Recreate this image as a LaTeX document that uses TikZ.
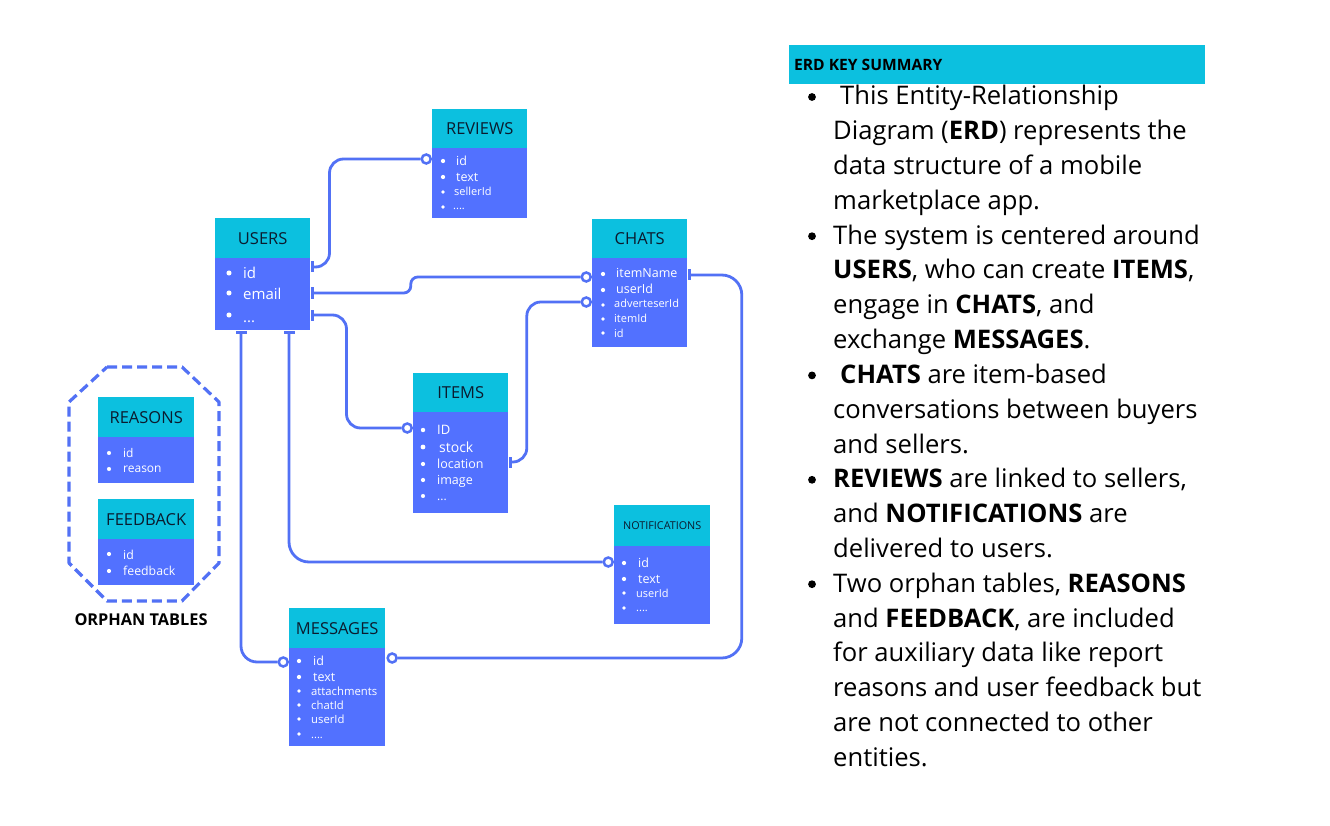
\documentclass[tikz,border=0pt]{standalone}
\usepackage{fontspec}
\setmainfont{Open Sans}
\usetikzlibrary{calc}
\definecolor{hdr}{HTML}{0CC0DF}
\definecolor{bdy}{HTML}{5271FF}
\definecolor{lnk}{HTML}{5271F5}
\definecolor{ink}{HTML}{0B1B2E}
\newcommand\fs[1]{\fontsize{#1}{#1}\selectfont}
% field row: name, bullet x, text x, baseline y, size, bullet y, text
\newcommand\frow[7]{\fill[white] (#2,#6) circle ({0.17*#5});
  \node[fld, font=\fs{#5}] (#1) at (#3,#4) {#7};}
\newcommand\kline[3]{\node[kl] at (#1,{105+34.8*#2}) {#3};}
\newcommand\kdot[1]{\fill[black] (812,{97+34.8*#1}) circle (3.9);}
\tikzset{
  hd/.style={rectangle, fill=hdr, anchor=north west, inner sep=0, text=ink},
  bd/.style={rectangle, fill=bdy, anchor=north west, inner sep=0},
  fld/.style={anchor=base west, inner sep=0, text=white},
  conn/.style={draw=lnk, line width=2.8pt, rounded corners=14pt},
  ocirc/.style={circle, draw=lnk, fill=white, line width=2.5pt, minimum size=9pt, inner sep=0},
  vbar/.style={rectangle, fill=lnk, minimum width=3pt, minimum height=11pt, inner sep=0},
  hbar/.style={rectangle, fill=lnk, minimum width=11pt, minimum height=3pt, inner sep=0},
  kl/.style={anchor=base west, inner sep=0, font=\fs{25.6}, text=black},
}
\begin{document}
\begin{tikzpicture}[x=1pt,y=-1pt]
\useasboundingbox[fill=white] (0,0) rectangle (1330,826);

% ---------- tables ----------
\node[hd, minimum width=95, minimum height=40, font=\fs{16.5}] (usersH) at (215,218) {USERS};
\node[bd, minimum width=95, minimum height=72] (usersB) at (215,258) {};
\node[hd, minimum width=95, minimum height=39, font=\fs{16.5}] (reviewsH) at (432,109) {REVIEWS};
\node[bd, minimum width=95, minimum height=70] (reviewsB) at (432,148) {};
\node[hd, minimum width=95, minimum height=39, font=\fs{16.5}] (chatsH) at (592,219) {CHATS};
\node[bd, minimum width=95, minimum height=89] (chatsB) at (592,258) {};
\node[hd, minimum width=95, minimum height=39, font=\fs{16.5}] (itemsH) at (413,373) {ITEMS};
\node[bd, minimum width=95, minimum height=101] (itemsB) at (413,412) {};
\node[hd, minimum width=96, minimum height=41, font=\fs{10.8}] (notifH) at (614,505) {NOTIFICATIONS};
\node[bd, minimum width=96, minimum height=78] (notifB) at (614,546) {};
\node[hd, minimum width=96, minimum height=40, font=\fs{16.5}] (msgH) at (289,608) {MESSAGES};
\node[bd, minimum width=96, minimum height=98] (msgB) at (289,648) {};
\node[hd, minimum width=96, minimum height=40, font=\fs{16.5}] (reasonsH) at (98,397) {REASONS};
\node[bd, minimum width=96, minimum height=46] (reasonsB) at (98,437) {};
\node[hd, minimum width=96, minimum height=40, font=\fs{16.5}] (feedbackH) at (98,499) {FEEDBACK};
\node[bd, minimum width=96, minimum height=46] (feedbackB) at (98,539) {};

% ---------- fields ----------
\frow{u1}{229}{243}{279}{15}{273}{id}
\frow{u2}{229}{243}{299}{15}{293}{email}
\frow{u3}{229}{243}{322}{15}{315}{...}

\frow{r1}{443}{456}{166}{12.5}{161}{id}
\frow{r2}{443}{456}{182}{12.5}{177}{text}
\frow{r3}{443}{454}{196}{11}{192}{sellerId}
\frow{r4}{443}{453}{210}{11}{207}{....}

\frow{c1}{603}{616}{278}{12.5}{274}{itemName}
\frow{c2}{603}{616}{294}{12.5}{290}{userId}
\frow{c3}{603}{614}{308}{11}{305}{adverteserId}
\frow{c4}{603}{614}{322}{11}{319}{itemId}
\frow{c5}{603}{614}{337}{11}{333}{id}

\frow{i1}{423}{437}{434}{13}{430}{ID}
\frow{i2}{423}{439}{452}{14}{447}{stock}
\frow{i3}{423}{437}{468}{12.5}{464}{location}
\frow{i4}{423}{437}{484}{12.5}{480}{image}
\frow{i5}{423}{437}{500}{12}{496}{...}

\frow{n1}{624}{638}{567}{12.5}{563}{id}
\frow{n2}{624}{638}{583}{12.5}{579}{text}
\frow{n3}{624}{636}{597}{11}{593}{userId}
\frow{n4}{624}{636}{611}{11}{608}{....}

\frow{m1}{299}{313}{665}{12.5}{661}{id}
\frow{m2}{299}{313}{681}{12.5}{677}{text}
\frow{m3}{299}{311}{695}{11.3}{691}{attachments}
\frow{m4}{299}{311}{709}{11.3}{705}{chatId}
\frow{m5}{299}{311}{723}{11.3}{719}{userId}
\frow{m6}{299}{311}{738}{11}{734}{....}

\frow{rs1}{109}{123}{457}{12}{453}{id}
\frow{rs2}{109}{123}{472}{12}{469}{reason}
\frow{f1}{109}{123}{559}{12.3}{554}{id}
\frow{f2}{109}{123}{575}{12.3}{571}{feedback}

% ---------- end markers ----------
\node[vbar, anchor=west] (b1) at ($(usersB.north east)+(0,9)$) {};
\node[vbar, anchor=west] (b2) at ($(usersB.north east)+(0,35)$) {};
\node[vbar, anchor=west] (b3) at ($(usersB.north east)+(0,57)$) {};
\node[hbar, anchor=north] (b4) at ($(usersB.south west)+(26,0)$) {};
\node[hbar, anchor=north] (b5) at ($(usersB.south west)+(74,0)$) {};
\node[vbar, anchor=west] (b6) at ($(itemsB.north east)+(0,50)$) {};
\node[vbar, anchor=west] (b7) at ($(chatsB.north east)+(0,17)$) {};

\node[ocirc, anchor=east] (e1) at ($(reviewsB.north west)+(0,11)$) {};
\node[ocirc, anchor=east] (e2) at ($(chatsB.north west)+(0,19)$) {};
\node[ocirc, anchor=east] (e3) at ($(itemsB.north west)+(0,16)$) {};
\node[ocirc, anchor=east] (e4) at ($(msgB.north west)+(0,14)$) {};
\node[ocirc, anchor=east] (e5) at ($(notifB.north west)+(0,16)$) {};
\node[ocirc, anchor=east] (e6) at ($(chatsB.north west)+(0,44)$) {};
\node[ocirc, anchor=west] (e7) at ($(msgB.north east)+(1,10)$) {};

% ---------- connectors ----------
\draw[conn] (b1.east) -| ([xshift=-91pt]e1.west) -- (e1.west);
\draw[conn, rounded corners=7pt] (b2.east) -- ++(97,0) |- (e2.west);
\draw[conn] (b3.east) -| ([xshift=-55pt]e3.west) -- (e3.west);
\draw[conn, rounded corners=16pt] (b4.south) |- (e4.west);
\draw[conn, rounded corners=20pt] (b5.south) |- (e5.west);
\draw[conn] (e6.west) -| ([xshift=15pt]b6.east) -- (b6.east);
\draw[conn, rounded corners=20pt] (b7.east) -- ++(51,0) |- (e7.east);

% ---------- orphan group ----------
\draw[lnk, line width=3.2pt, dash pattern=on 10pt off 5pt, line join=round]
  (107,367) -- (182,367) -- (219,402) -- (219,563) -- (182,601) -- (107,601)
  -- (69,563) -- (69,402) -- cycle;
\node[font=\fs{16.3}\bfseries, text=black, inner sep=0] (orph) at (141,620) {ORPHAN TABLES};

% ---------- key summary ----------
\node[rectangle, fill=hdr, anchor=north west, minimum width=416, minimum height=39, inner sep=0] (keyH) at (789,45) {};
\node[anchor=west, inner sep=0, font=\fs{15.6}\bfseries, text=black] (keyT) at (794,65) {ERD KEY SUMMARY};

\kdot{0}\kdot{4}\kdot{8}\kdot{11}\kdot{14}
\kline{840}{0}{This Entity-Relationship}
\kline{833}{1}{Diagram (\textbf{ERD}) represents the}
\kline{833}{2}{data structure of a mobile}
\kline{833}{3}{marketplace app.}
\kline{833}{4}{The system is centered around}
\kline{833}{5}{\textbf{USERS}, who can create \textbf{ITEMS},}
\kline{833}{6}{engage in \textbf{CHATS}, and}
\kline{833}{7}{exchange \textbf{MESSAGES}.}
\kline{840}{8}{\textbf{CHATS} are item-based}
\kline{833}{9}{conversations between buyers}
\kline{833}{10}{and sellers.}
\kline{833}{11}{\textbf{REVIEWS} are linked to sellers,}
\kline{833}{12}{and \textbf{NOTIFICATIONS} are}
\kline{833}{13}{delivered to users.}
\kline{833}{14}{Two orphan tables, \textbf{REASONS}}
\kline{833}{15}{and \textbf{FEEDBACK}, are included}
\kline{833}{16}{for auxiliary data like report}
\kline{833}{17}{reasons and user feedback but}
\kline{833}{18}{are not connected to other}
\kline{833}{19}{entities.}
\end{tikzpicture}
\end{document}
